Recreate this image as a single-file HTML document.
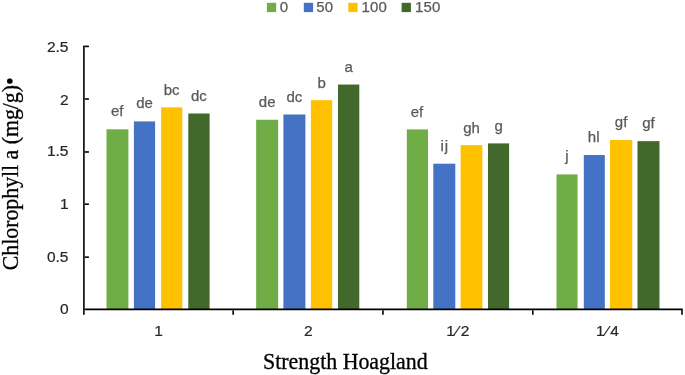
<!DOCTYPE html>
<html lang="en">
<head>
<meta charset="utf-8">
<title>Chlorophyll a vs Strength Hoagland</title>
<style>
html,body{margin:0;padding:0;background:#fff;}
body{width:685px;height:375px;overflow:hidden;}
svg{display:block;}
.sans{font-family:"Liberation Sans",sans-serif;}
.serif{font-family:"Liberation Serif",serif;}
</style>
</head>
<body>
<svg width="685" height="375" viewBox="0 0 685 375">
<rect x="0" y="0" width="685" height="375" fill="#ffffff"/>

<g class="sans" font-size="15" fill="#595959" stroke="#595959" stroke-width="0.25">
<rect x="266.9" y="2.8" width="9.3" height="9.3" fill="#70AD47" stroke="none"/>
<text x="279.8" y="12.25" letter-spacing="0.2">0</text>
<rect x="303.8" y="2.8" width="9.3" height="9.3" fill="#4472C4" stroke="none"/>
<text x="316.2" y="12.25" letter-spacing="0.2">50</text>
<rect x="348.3" y="2.8" width="9.3" height="9.3" fill="#FFC000" stroke="none"/>
<text x="361.4" y="12.25" letter-spacing="0.2">100</text>
<rect x="401.6" y="2.8" width="9.3" height="9.3" fill="#43682B" stroke="none"/>
<text x="415" y="12.25" letter-spacing="0.2">150</text>
</g>
<rect x="106.5" y="129.3" width="21.9" height="180.05" fill="#70AD47"/>
<rect x="133.9" y="121.4" width="21.2" height="187.95" fill="#4472C4"/>
<rect x="161.1" y="107.35" width="21.2" height="202" fill="#FFC000"/>
<rect x="188.3" y="113.5" width="21.3" height="195.85" fill="#43682B"/>
<rect x="256.15" y="119.75" width="22" height="189.6" fill="#70AD47"/>
<rect x="283.4" y="114.5" width="22" height="194.85" fill="#4472C4"/>
<rect x="310.9" y="100.2" width="21.3" height="209.15" fill="#FFC000"/>
<rect x="338" y="84.56" width="21.3" height="224.79" fill="#43682B"/>
<rect x="406.8" y="129.4" width="21.2" height="179.95" fill="#70AD47"/>
<rect x="433.3" y="163.7" width="22" height="145.65" fill="#4472C4"/>
<rect x="460.6" y="145.15" width="21.75" height="164.2" fill="#FFC000"/>
<rect x="488" y="143.4" width="21.1" height="165.95" fill="#43682B"/>
<rect x="556.5" y="174.4" width="21.05" height="134.95" fill="#70AD47"/>
<rect x="583.8" y="155.05" width="21" height="154.3" fill="#4472C4"/>
<rect x="610" y="140.05" width="22.25" height="169.3" fill="#FFC000"/>
<rect x="637.5" y="141.15" width="22" height="168.2" fill="#43682B"/>
<g class="sans" font-size="15" fill="#595959" stroke="#595959" stroke-width="0.25" text-anchor="middle">
<text x="117.15" y="116.4">ef</text>
<text x="144.5" y="108.1">de</text>
<text x="171.7" y="94.55">bc</text>
<text x="198.95" y="101">dc</text>
<text x="267.15" y="107.25">de</text>
<text x="294.4" y="102">dc</text>
<text x="321.55" y="87.7">b</text>
<text x="348.65" y="72.06">a</text>
<text x="416.9" y="116.6">ef</text>
<text text-anchor="start" x="440.4 444.65" y="151.2">ij</text>
<text x="471.48" y="132.65">gh</text>
<text x="498.55" y="130.9">g</text>
<text x="567.02" y="161.1">j</text>
<text x="593.7" y="141.85">hl</text>
<text x="621.12" y="126.65">gf</text>
<text x="648.5" y="127.65">gf</text>
</g>
<g stroke="#000" stroke-width="1.6" fill="none">
<path d="M83.9 45.6 V314.65"/>
<path d="M84.7 309.35 H682 V314.65"/>
<path d="M84.7 46.4 H88.9"/>
<path d="M84.7 98.99 H88.9"/>
<path d="M84.7 151.98 H88.9"/>
<path d="M84.7 204.17 H88.9"/>
<path d="M84.7 257.16 H88.9"/>
<path d="M233.15 310.15 V314.65"/>
<path d="M382.95 310.15 V314.65"/>
<path d="M532.8 310.15 V314.65"/>
</g>
<g class="sans" font-size="15.5" fill="#262626" stroke="#262626" stroke-width="0.2" text-anchor="end">
<text x="68.5" y="51.7">2.5</text>
<text x="68.5" y="104.8">2</text>
<text x="68.5" y="156.4">1.5</text>
<text x="68.5" y="209.2">1</text>
<text x="68.5" y="262.3">0.5</text>
<text x="68.5" y="314.3">0</text>
</g>
<g class="sans" font-size="15.5" fill="#262626" stroke="#262626" stroke-width="0.2">
<text x="154.2" y="336.2">1</text>
<text x="303.9" y="336.2">2</text>
<text x="446.3 456 460.7" y="336.2">1⁄2</text>
<text x="596.1 606 610.25" y="336.2">1⁄4</text>
</g>
<text class="serif" font-size="21.9" fill="#000" stroke="#000" stroke-width="0.3" transform="translate(263.0 368.8) scale(1 1.05)">Strength Hoagland</text>
<text class="serif" font-size="21.8" fill="#000" stroke="#000" stroke-width="0.3" transform="translate(18.2 270.2) rotate(-90) scale(1 1.05)">Chlorophyll a (mg/g)•</text>
</svg>
</body>
</html>
